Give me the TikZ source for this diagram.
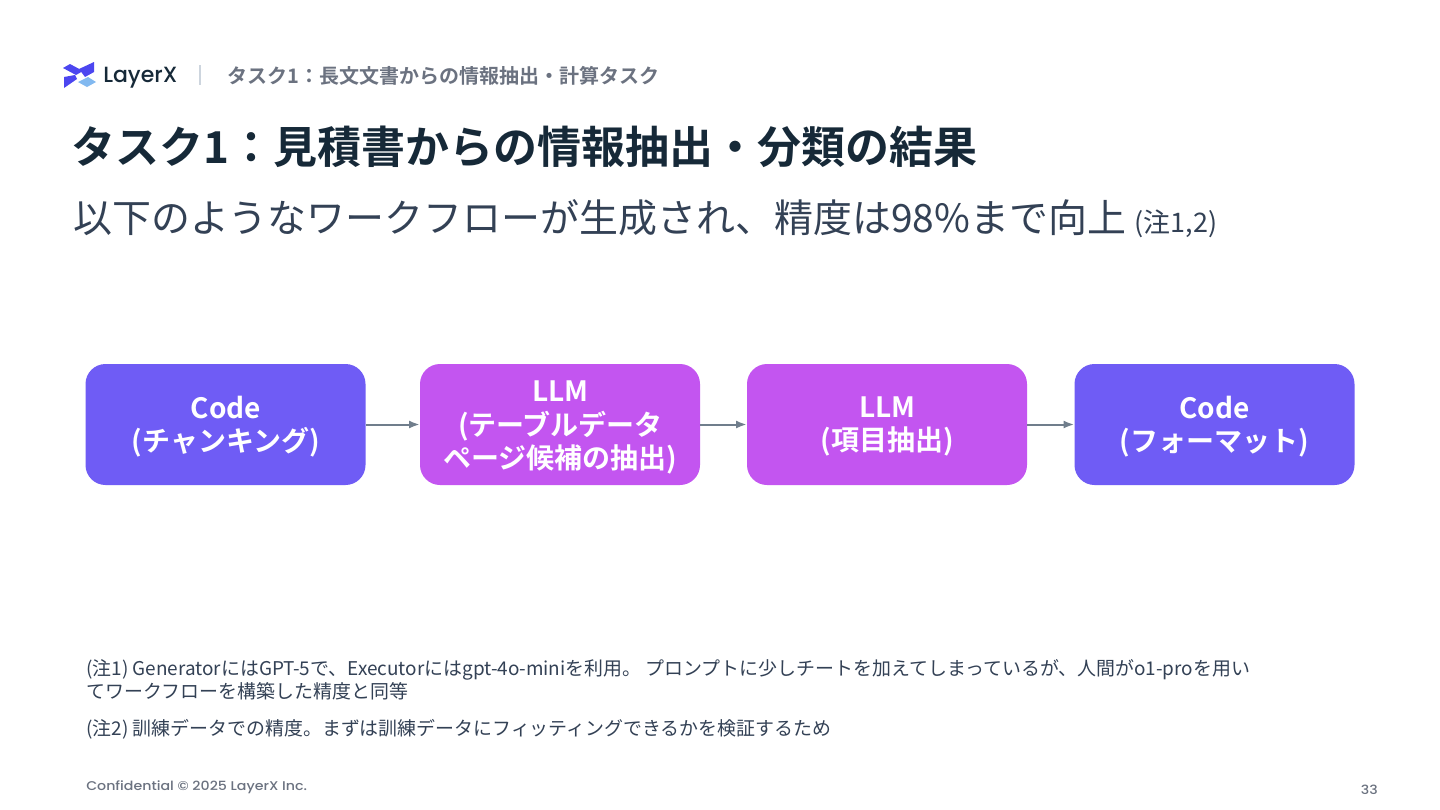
\documentclass[tikz,border=0pt]{standalone}
\usepackage{fontspec}
\setmainfont{Noto Sans CJK JP}[BoldFont={Noto Sans CJK JP Bold}]
\newfontfamily\logofont{Poppins Medium}
\newfontfamily\footfont{Poppins Medium}[FakeStretch=1.12]
\usetikzlibrary{arrows.meta, positioning}
\definecolor{taskblue}{RGB}{111,92,245}
\definecolor{taskpurple}{RGB}{195,85,240}
\definecolor{titleink}{RGB}{22,41,56}
\definecolor{bodyink}{RGB}{51,65,85}
\definecolor{softgray}{RGB}{107,114,128}
\definecolor{flowgray}{RGB}{112,126,140}
\definecolor{logoblue}{RGB}{76,70,240}
\definecolor{logosky}{RGB}{130,185,240}
\definecolor{dividergray}{RGB}{205,213,222}
\tikzset{
    stagebox/.style={rounded corners=15pt, minimum width=210pt, minimum height=90.75pt, inner sep=0pt},
    stagetext/.style={inner sep=0pt, align=center, text=white, font=\fontsize{21}{25}\selectfont\bfseries},
    flowline/.style={draw=flowgray, line width=1.5pt, -{Latex[length=8pt, width=6pt]}},
    noteline/.style={anchor=west, inner sep=0pt, text=bodyink, font=\fontsize{14.2}{17}\selectfont}
}
\begin{document}
\begin{tikzpicture}[x=0.75pt, y=-0.75pt]
    \useasboundingbox (0,0) rectangle (1440,810);
    \fill[white] (0,0) rectangle (1440,810);

    % Logo
    \fill[logoblue] (63,68) -- (70,64) -- (83,71) -- (76,75) -- cycle;
    \fill[logoblue] (64,77) -- (75,75) -- (77,79) -- (64,88) -- cycle;
    \fill[logoblue] (79,69) -- (94,62) -- (94,72) -- (85,77) -- cycle;
    \fill[logosky] (78,82) -- (88,77) -- (96,82) -- (87,87) -- cycle;
    \node[anchor=west, inner sep=0pt, text=titleink, font=\logofont\fontsize{16.5}{18}\selectfont] (logotext) at (103,78) {LayerX};
    \draw[dividergray, line width=1.5pt] (200,65) -- (200,85);

    % Header
    \node[anchor=west, inner sep=0pt, text=softgray, font=\fontsize{15}{18}\selectfont\bfseries] (crumb) at (227,76) {タスク1：長文文書からの情報抽出・計算タスク};
    \node[anchor=west, inner sep=0pt, text=titleink, font=\fontsize{33}{40}\selectfont\bfseries] (headline) at (71.5,147) {タスク1：見積書からの情報抽出・分類の結果};
    \node[anchor=west, inner sep=0pt, text=bodyink, font=\fontsize{29.2}{35}\selectfont] (subline) at (73,219) {以下のようなワークフローが生成され、精度は98\%まで向上 {\fontsize{20.2}{22}\selectfont(注1,2)}};

    % Boxes
    \node[stagebox, fill=taskblue] (chunk) at (225.5,424.5) {};
    \node[stagebox, fill=taskpurple] (page) at (560,424.5) {};
    \node[stagebox, fill=taskpurple] (item) at (887,424.5) {};
    \node[stagebox, fill=taskblue] (format) at (1214.5,424.5) {};

    \node[stagetext] (chunktext) at (226,426.5) {Code\\(チャンキング)};
    \node[stagetext] (pagetext) at (560.5,427.5) {LLM\\(テーブルデータ\\ページ候補の抽出)};
    \node[stagetext] (itemtext) at (887.5,426.5) {LLM\\(項目抽出)};
    \node[stagetext] (formattext) at (1214.5,426.5) {Code\\(フォーマット)};

    \foreach \a/\b in {chunk/page, page/item, item/format} {
        \draw[flowline] (\a) -- (\b);
    }

    % Notes
    \node[noteline] (noteone) at (86,670) {(注1) GeneratorにはGPT-5で、Executorにはgpt-4o-miniを利用。 プロンプトに少しチートを加えてしまっているが、人間がo1-proを用い};
    \node[noteline] (noteonemore) at (86,691) {てワークフローを構築した精度と同等};
    \node[noteline] (notetwo) at (86,729.5) {(注2) 訓練データでの精度。まずは訓練データにフィッティングできるかを検証するため};

    % Footer
    \node[anchor=west, inner sep=0pt, text=softgray, font=\footfont\fontsize{9.5}{12}\selectfont] (confidential) at (86,787) {Confidential © 2025 LayerX Inc.};
    \node[anchor=east, inner sep=0pt, text=softgray, font=\footfont\fontsize{9.5}{12}\selectfont] (pagenum) at (1378,790) {33};
\end{tikzpicture}
\end{document}
